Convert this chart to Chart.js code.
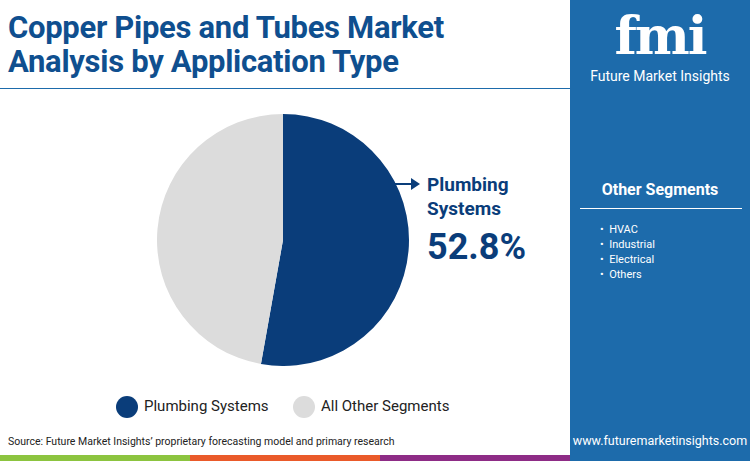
<!DOCTYPE html>
<html><head><meta charset="utf-8">
<script src="https://cdn.jsdelivr.net/npm/chart.js@4"></script>
<style>
body{margin:0;width:750px;height:461px;position:relative;overflow:hidden;font-family:Roboto,sans-serif;background:#fff}
.abs{position:absolute}
#title{left:8px;top:11px;font-size:31px;font-weight:700;color:#0f4f8f;line-height:34px;letter-spacing:-0.3px}
#panel{left:570px;top:0;width:180px;height:461px;background:#1d6bab}
.dot{display:inline-block;width:22px;height:22px;border-radius:50%;vertical-align:middle;margin-right:6px}
</style></head><body>
<div id="title" class="abs">Copper Pipes and Tubes Market<br>Analysis by Application Type</div>
<div class="abs" style="left:0;top:88px;width:570px;height:1px;background:#1d6bab"></div>
<div id="panel" class="abs"></div>
<div class="abs" style="left:570px;top:10px;width:180px;text-align:center;color:#fff;font-size:52px;font-weight:900;font-family:'DejaVu Serif',serif;line-height:52px;letter-spacing:-2px">fmi</div>
<div class="abs" style="left:570px;top:68px;width:180px;text-align:center;color:#fff;font-size:14px">Future Market Insights</div>
<div class="abs" style="left:570px;top:180px;width:180px;text-align:center;color:#fff;font-size:16px;font-weight:700">Other Segments</div>
<div class="abs" style="left:580px;top:208px;width:162px;height:1px;background:#fff"></div>
<div class="abs" style="left:600px;top:222px;color:#fff;font-size:11px;line-height:15px">• &nbsp;HVAC<br>• &nbsp;Industrial<br>• &nbsp;Electrical<br>• &nbsp;Others</div>
<div class="abs" style="left:570px;top:433px;width:180px;text-align:center;color:#fff;font-size:12.5px">www.futuremarketinsights.com</div>
<div class="abs" style="left:8px;top:435px;color:#222;font-size:10.5px">Source: Future Market Insights’ proprietary forecasting model and primary research</div>
<div class="abs" style="left:0;top:455px;width:190px;height:6px;background:#8cc43f"></div>
<div class="abs" style="left:190px;top:455px;width:190px;height:6px;background:#ea5a2a"></div>
<div class="abs" style="left:380px;top:455px;width:190px;height:6px;background:#8e2c86"></div>
<div class="abs" style="left:390px;top:183px;width:26px;height:2px;background:#0a3d7a"></div>
<div class="abs" style="left:411px;top:178px;width:0;height:0;border-left:9px solid #0a3d7a;border-top:6px solid transparent;border-bottom:6px solid transparent"></div>
<div class="abs" style="left:427px;top:173px;color:#0a3d7a;font-size:19px;font-weight:700;line-height:24px">Plumbing<br>Systems</div>
<div class="abs" style="left:427px;top:226px;color:#0a3d7a;font-size:36px;font-weight:700">52.8%</div>
<div class="abs" style="left:116px;top:396px;font-size:15px;color:#222"><span class="dot" style="background:#0a3d7a"></span>Plumbing Systems</div>
<div class="abs" style="left:293px;top:396px;font-size:15px;color:#222"><span class="dot" style="background:#dcdcdc"></span>All Other Segments</div>
<div class="abs" style="left:157px;top:114px;width:252px;height:252px"><canvas id="c"></canvas></div>
<script>
const categories=["Plumbing Systems","All Other Segments"];
const shares=[52.8,47.2];
const colors=["#0a3d7a","#dcdcdc"];
new Chart(document.getElementById('c'),{type:'pie',data:{labels:categories,datasets:[{data:shares,backgroundColor:colors,borderWidth:0}]},
options:{responsive:true,maintainAspectRatio:true,animation:false,layout:{padding:0},plugins:{legend:{display:false},tooltip:{enabled:false}}}});
</script>
</body></html>
